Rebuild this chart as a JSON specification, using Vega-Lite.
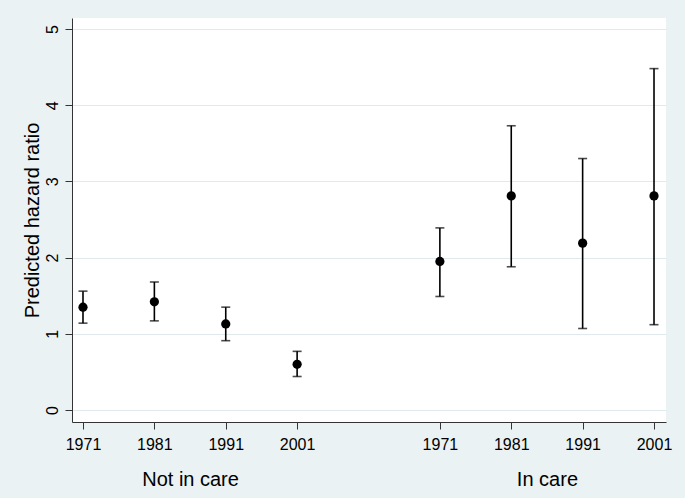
{
  "$schema": "https://vega.github.io/schema/vega-lite/v6.json",
  "width": 594,
  "height": 404,
  "autosize": {"type": "none"},
  "padding": {"left": 72, "top": 18, "right": 19, "bottom": 76},
  "background": "#eaf2f3",
  "config": {
    "view": {"fill": "white", "stroke": null},
    "font": "Liberation Sans",
    "axis": {
      "domainColor": "#333333",
      "tickColor": "#333333",
      "labelColor": "#000000",
      "titleColor": "#000000",
      "labelFont": "Liberation Sans",
      "titleFont": "Liberation Sans",
      "labelFontSize": 16,
      "titleFontSize": 20,
      "titleFontWeight": "normal",
      "tickSize": 7,
      "domainWidth": 1,
      "tickWidth": 1,
      "gridColor": "#e0eaec",
      "gridWidth": 1
    }
  },
  "data": {
    "values": [
      {"group": "Not in care", "year": 1971, "pos": 1, "hr": 1.35, "lo": 1.14, "hi": 1.56},
      {"group": "Not in care", "year": 1981, "pos": 2, "hr": 1.42, "lo": 1.17, "hi": 1.68},
      {"group": "Not in care", "year": 1991, "pos": 3, "hr": 1.13, "lo": 0.91, "hi": 1.35},
      {"group": "Not in care", "year": 2001, "pos": 4, "hr": 0.60, "lo": 0.44, "hi": 0.77},
      {"group": "In care", "year": 1971, "pos": 6, "hr": 1.95, "lo": 1.49, "hi": 2.39},
      {"group": "In care", "year": 1981, "pos": 7, "hr": 2.81, "lo": 1.88, "hi": 3.73},
      {"group": "In care", "year": 1991, "pos": 8, "hr": 2.19, "lo": 1.07, "hi": 3.30},
      {"group": "In care", "year": 2001, "pos": 9, "hr": 2.81, "lo": 1.12, "hi": 4.48}
    ]
  },
  "layer": [
    {
      "layer": [
        {
          "mark": {
            "type": "errorbar",
            "thickness": 1.6,
            "color": "black",
            "ticks": {"size": 9, "color": "black", "thickness": 1.6},
            "rule": {"color": "black", "strokeWidth": 1.6}
          },
          "encoding": {
            "x": {
              "field": "pos",
              "type": "quantitative",
              "scale": {"domain": [0.846, 9.168], "zero": false, "nice": false},
              "axis": {
                "orient": "bottom",
                "values": [1, 2, 3, 4, 6, 7, 8, 9],
                "labelExpr": "'' + (1961 + 10 * (datum.value <= 4 ? datum.value : datum.value - 5))",
                "labelFlush": false,
                "labelOverlap": false,
                "grid": false,
                "labelPadding": 7,
                "title": null
              }
            },
            "y": {
              "field": "lo",
              "type": "quantitative",
              "scale": {"domain": [-0.157, 5.144], "zero": false, "nice": false},
              "axis": {
                "values": [0, 1, 2, 3, 4, 5],
                "format": "d",
                "labelAngle": 270,
                "labelAlign": "center",
                "labelBaseline": "alphabetic",
                "labelPadding": 8,
                "grid": true,
                "title": "Predicted hazard ratio",
                "titlePadding": 2
              }
            },
            "y2": {"field": "hi"}
          }
        },
        {
          "mark": {"type": "circle", "size": 85, "color": "black", "opacity": 1},
          "encoding": {
            "x": {"field": "pos", "type": "quantitative", "axis": {"title": null}},
            "y": {"field": "hr", "type": "quantitative", "axis": {"title": "Predicted hazard ratio"}}
          }
        }
      ]
    },
    {
      "data": {
        "values": [
          {"pos": 2.5, "label": "Not in care"},
          {"pos": 7.5, "label": "In care"}
        ]
      },
      "mark": {"type": "point", "opacity": 0},
      "encoding": {
        "x": {
          "field": "pos",
          "type": "quantitative",
          "scale": {"domain": [0.846, 9.168], "zero": false, "nice": false},
          "axis": {
            "orient": "bottom",
            "values": [2.5, 7.5],
            "labelExpr": "datum.value < 5 ? 'Not in care' : 'In care'",
            "ticks": false,
            "domain": false,
            "grid": false,
            "labelFontSize": 20,
            "labelPadding": 47,
            "labelFlush": false,
            "labelOverlap": false,
            "title": null
          }
        }
      }
    }
  ],
  "resolve": {"scale": {"x": "independent"}, "axis": {"x": "independent"}}
}
